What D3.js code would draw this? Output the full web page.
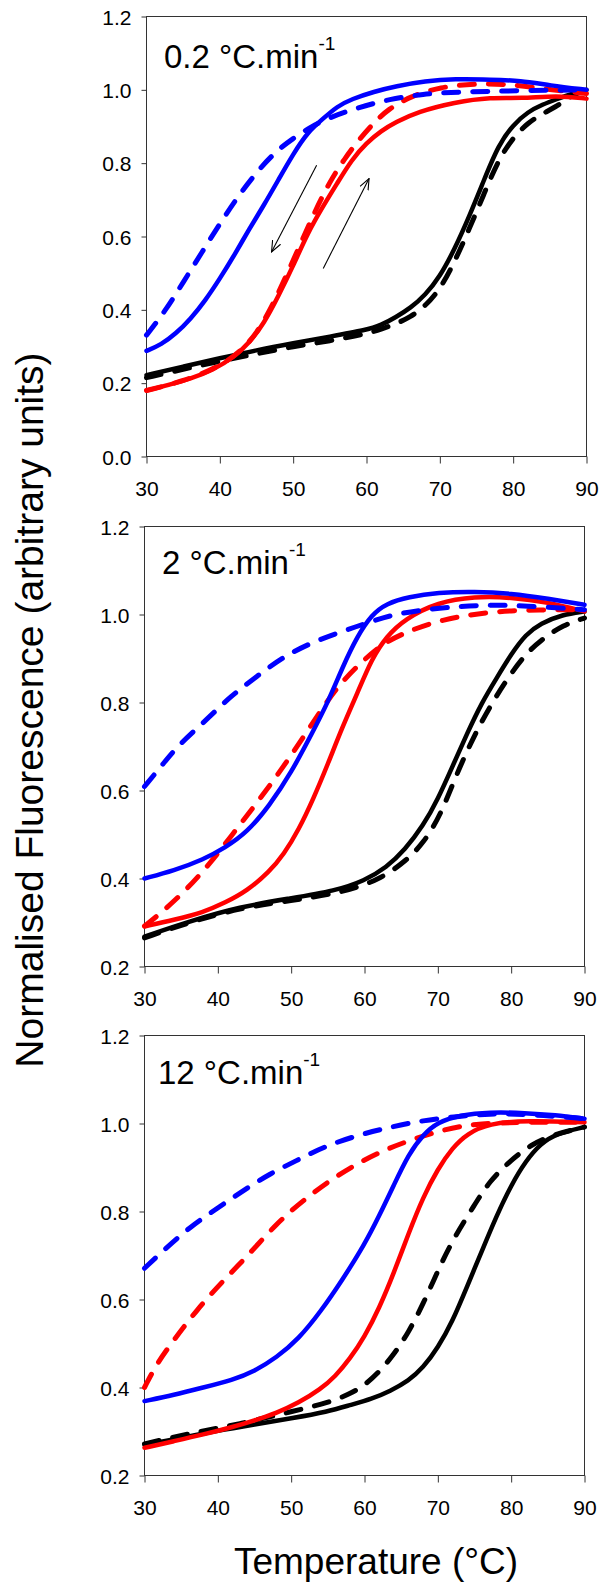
<!DOCTYPE html>
<html>
<head>
<meta charset="utf-8">
<script src="https://cdn.jsdelivr.net/npm/d3@7"></script>
<style>
  html, body { margin: 0; padding: 0; background: #fff; }
  svg { display: block; font-family: "Liberation Sans", Arial, sans-serif; }
</style>
</head>
<body>
<svg id="chart" width="600" height="1584"></svg>
<script>
// ---------------- DATA ----------------
const xTicks = [30, 40, 50, 60, 70, 80, 90];
const yTicksP1 = [0.0, 0.2, 0.4, 0.6, 0.8, 1.0, 1.2];
const yTicksP23 = [0.2, 0.4, 0.6, 0.8, 1.0, 1.2];
const panelTitles = ["0.2 °C.min", "2 °C.min", "12 °C.min"];
const yLabel = "Normalised Fluorescence (arbitrary units)";
const xLabel = "Temperature (°C)";

// Panel 1 (0.2 °C/min) — [temperature, fluorescence]
const p1BlueSolid = [[30,.288],[32,.305],[34,.335],[36,.375],[38,.425],[40,.485],[42,.55],[44,.62],[46,.685],[48,.755],[50,.825],[52,.885],[54,.92],[56,.955],[58,.975],[61,.995],[64,1.01],[68,1.024],[72,1.03],[77,1.028],[81,1.025],[85,1.012],[90,1.0]];
const p1BlueDashed = [[30,.331],[32.5,.395],[35,.475],[37.5,.555],[40,.635],[42.5,.71],[45,.775],[47.5,.83],[50,.868],[52.5,.9],[55,.925],[58.6,.95],[63.2,.975],[67.7,.989],[72.3,.994],[81.4,.998],[90,1.0]];
const p1RedSolid = [[30,.18],[33,.195],[36,.212],[39,.235],[42,.272],[44,.31],[46,.362],[48,.438],[50,.52],[52,.61],[54,.68],[56,.745],[58,.81],[60,.855],[62,.888],[64,.912],[67,.94],[72,.966],[77,.98],[81,.976],[86,.985],[90,.976]];
const p1RedDashed = [[30,.18],[35,.205],[40,.245],[43,.29],[45,.335],[47,.405],[49,.49],[51,.58],[53,.67],[55,.75],[57,.812],[59,.865],[61,.91],[63,.948],[66,.982],[70,1.008],[75,1.017],[80,1.015],[85,1.0],[90,.99]];
const p1BlackSolid = [[30,.222],[35,.245],[40,.268],[45,.29],[50,.309],[55,.327],[60,.345],[62,.358],[64,.38],[66,.405],[68,.44],[70,.49],[72,.565],[74,.654],[76,.753],[78,.85],[80,.905],[82,.94],[84,.96],[86,.975],[88,.99],[90,1.0]];
const p1BlackDashed = [[30,.215],[35,.238],[40,.26],[45,.28],[50,.3],[55,.315],[60,.335],[62,.347],[64,.362],[66,.38],[68,.41],[70,.455],[72,.53],[74,.62],[76,.715],[78,.81],[80,.87],[82,.91],[84,.935],[86,.955],[88,.985],[90,1.0]];
// arrows in panel 1: [T0, v0, T1, v1]
const p1Arrows = [[53.2,.794,47.05,.558],[54.1,.513,60.35,.758]];

// Panel 2 (2 °C/min)
const p2BlueSolid = [[30,.40],[34,.418],[38,.443],[41,.47],[44,.505],[47,.565],[50,.64],[53,.735],[55,.8],[57,.88],[59,.95],[61,1.0],[63,1.025],[66,1.04],[70,1.05],[75,1.052],[80,1.048],[85,1.036],[90,1.022]];
const p2BlueDashed = [[30,.609],[32.6,.662],[34.9,.708],[38.5,.761],[41.7,.814],[45.3,.859],[49,.905],[53.5,.942],[59,.973],[63.5,.999],[68,1.011],[72.6,1.018],[77.1,1.022],[81.7,1.02],[90,1.011]];
const p2RedSolid = [[30,.291],[34,.306],[38,.323],[41,.345],[44,.372],[47,.415],[49,.455],[51,.51],[53,.58],[55,.66],[57,.745],[59,.82],[61,.9],[63,.95],[65.5,.99],[70,1.028],[75,1.041],[80,1.039],[85,1.028],[90,1.007]];
const p2RedDashed = [[30,.292],[31.7,.314],[35.3,.367],[39,.435],[42.1,.503],[45.3,.571],[49,.655],[52.6,.745],[56.2,.836],[59.9,.897],[62.6,.935],[65.8,.961],[70.3,.988],[77.1,1.007],[84,1.011],[90,1.011]];
const p2BlackSolid = [[30,.268],[36,.302],[43,.336],[50,.355],[56,.372],[60,.395],[63,.425],[65.5,.465],[68,.52],[70,.58],[72,.655],[74,.73],[76,.8],[78,.855],[80,.91],[82,.955],[84,.98],[87,1.0],[90,1.007]];
const p2BlackDashed = [[30,.265],[36,.3],[43,.333],[50,.35],[56.7,.367],[62.1,.397],[65.8,.442],[68,.48],[70.3,.541],[72.6,.639],[74.9,.723],[77.1,.791],[79.4,.852],[81.7,.905],[84,.942],[87.2,.977],[90,.992]];

// Panel 3 (12 °C/min)
const p3BlueSolid = [[30,.369],[34,.383],[38,.4],[42,.417],[45,.437],[48,.468],[51,.51],[54,.572],[57,.645],[60,.725],[62,.79],[64,.86],[66,.93],[68,.975],[70,1.003],[73,1.019],[77,1.026],[82,1.024],[86,1.019],[90,1.011]];
const p3BlueDashed = [[30,.671],[32.6,.712],[36.2,.765],[39.9,.807],[43.5,.848],[47.1,.886],[50.8,.916],[54.4,.947],[59,.973],[63.5,.992],[68,1.007],[72.6,1.016],[77.1,1.022],[81.7,1.022],[90,1.011]];
const p3RedSolid = [[30,.263],[34,.278],[38,.293],[42,.31],[45,.325],[48,.342],[51,.365],[54,.396],[56,.425],[58,.465],[60,.515],[62,.58],[64,.66],[66,.75],[68,.833],[70,.897],[72,.945],[74,.977],[77,1.0],[82,1.007],[90,1.003]];
const p3RedDashed = [[30,.4],[31.7,.455],[34,.508],[37.1,.576],[40.8,.644],[44.4,.705],[48,.773],[51.7,.826],[55.3,.871],[59,.909],[62.6,.939],[66.2,.962],[70.3,.984],[74.9,1.0],[81.7,1.003],[90,1.003]];
const p3BlackSolid = [[30,.27],[35,.285],[40,.302],[45,.316],[50,.33],[55,.345],[58,.36],[61,.374],[63.5,.392],[66,.415],[68,.445],[70,.49],[72,.55],[74,.63],[76,.71],[78,.79],[80,.86],[82,.915],[84,.954],[86.2,.977],[90,.992]];
const p3BlackDashed = [[30,.272],[36,.295],[43,.317],[50,.345],[55,.365],[58,.385],[60,.405],[62,.435],[64,.475],[66,.525],[68,.59],[70,.665],[72,.735],[75,.815],[77,.868],[80,.918],[83,.955],[86,.976],[90,.992]];

// ---------------- LAYOUT ----------------
const panels = [
  { x0: 146.5, x1: 586.5, yTop: 16.5, yBot: 456.5, yDom: [0, 1.2], yTicks: yTicksP1, title: panelTitles[0], tx: 164, ty: 68,
    series: [p1BlackDashed, p1BlackSolid, p1RedSolid, p1RedDashed, p1BlueSolid, p1BlueDashed], arrows: p1Arrows },
  { x0: 144.5, x1: 584.5, yTop: 526.5, yBot: 966.5, yDom: [0.2, 1.2], yTicks: yTicksP23, title: panelTitles[1], tx: 162, ty: 574,
    series: [p2BlackDashed, p2BlackSolid, p2RedSolid, p2RedDashed, p2BlueSolid, p2BlueDashed], arrows: [] },
  { x0: 144.5, x1: 584.5, yTop: 1035.5, yBot: 1475.5, yDom: [0.2, 1.2], yTicks: yTicksP23, title: panelTitles[2], tx: 158, ty: 1084,
    series: [p3BlackDashed, p3BlackSolid, p3RedSolid, p3RedDashed, p3BlueSolid, p3BlueDashed], arrows: [] }
];
const styles = [
  { color: "#000000", dash: true },
  { color: "#000000", dash: false },
  { color: "#ff0000", dash: false },
  { color: "#ff0000", dash: true },
  { color: "#0000ff", dash: false },
  { color: "#0000ff", dash: true }
];

const svg = d3.select("#chart");
svg.append("defs").append("marker")
  .attr("id", "arrowhead")
  .attr("viewBox", "0 0 12 12")
  .attr("refX", 11).attr("refY", 6)
  .attr("markerWidth", 12).attr("markerHeight", 12)
  .attr("markerUnits", "userSpaceOnUse")
  .attr("orient", "auto")
  .append("path")
  .attr("d", "M0,1.5 L11,6 L0,10.5")
  .attr("fill", "none").attr("stroke", "#000").attr("stroke-width", 1.1);

panels.forEach((p, i) => {
  const x = d3.scaleLinear().domain([30, 90]).range([p.x0, p.x1]);
  const y = d3.scaleLinear().domain(p.yDom).range([p.yBot, p.yTop]);
  const g = svg.append("g");

  // axes
  const xa = g.append("g").attr("transform", `translate(0,${p.yBot})`)
    .call(d3.axisBottom(x).tickValues(xTicks).tickSize(7).tickPadding(8).tickFormat(d3.format("d")));
  const ya = g.append("g").attr("transform", `translate(${p.x0},0)`)
    .call(d3.axisLeft(y).tickValues(p.yTicks).tickSize(5).tickPadding(10).tickFormat(d3.format(".1f")));
  [xa, ya].forEach(a => {
    a.select(".domain").remove();
    a.selectAll(".tick line").attr("stroke", "#333");
    a.selectAll(".tick text").attr("fill", "#000").style("font-size", "21px")
      .style("font-family", "'Liberation Sans', Arial, sans-serif");
  });
  xa.selectAll(".tick text").attr("dy", null).attr("y", 39);
  ya.selectAll(".tick text").attr("dy", "0.36em");

  // frame
  g.append("rect").attr("x", p.x0).attr("y", p.yTop)
    .attr("width", p.x1 - p.x0).attr("height", p.yBot - p.yTop)
    .attr("fill", "none").attr("stroke", "#333").attr("stroke-width", 1);

  // series
  const line = d3.line().x(d => x(d[0])).y(d => y(d[1])).curve(d3.curveBasis);
  p.series.forEach((s, k) => {
    const st = styles[k];
    g.append("path").datum(s).attr("d", line)
      .attr("fill", "none").attr("stroke", st.color)
      .attr("stroke-width", st.dash ? 5 : 4.5)
      .attr("stroke-linecap", "round").attr("stroke-linejoin", "round")
      .attr("stroke-dasharray", st.dash ? "15,14" : null);
  });

  // arrows
  p.arrows.forEach(a => {
    g.append("line")
      .attr("x1", x(a[0])).attr("y1", y(a[1]))
      .attr("x2", x(a[2])).attr("y2", y(a[3]))
      .attr("stroke", "#000").attr("stroke-width", 1.1)
      .attr("marker-end", "url(#arrowhead)");
  });

  // title
  const t = g.append("text").attr("x", p.tx).attr("y", p.ty)
    .style("font-size", "33px").attr("fill", "#000");
  t.append("tspan").text(p.title);
  t.append("tspan").attr("dy", -18).style("font-size", "19px").text("-1");
});

// axis titles
svg.append("text")
  .attr("transform", "translate(43,710) rotate(-90)")
  .attr("text-anchor", "middle")
  .style("font-size", "39px").attr("fill", "#000")
  .text(yLabel);
svg.append("text")
  .attr("x", 376).attr("y", 1574)
  .attr("text-anchor", "middle")
  .style("font-size", "37px").attr("fill", "#000")
  .text(xLabel);
</script>
</body>
</html>
